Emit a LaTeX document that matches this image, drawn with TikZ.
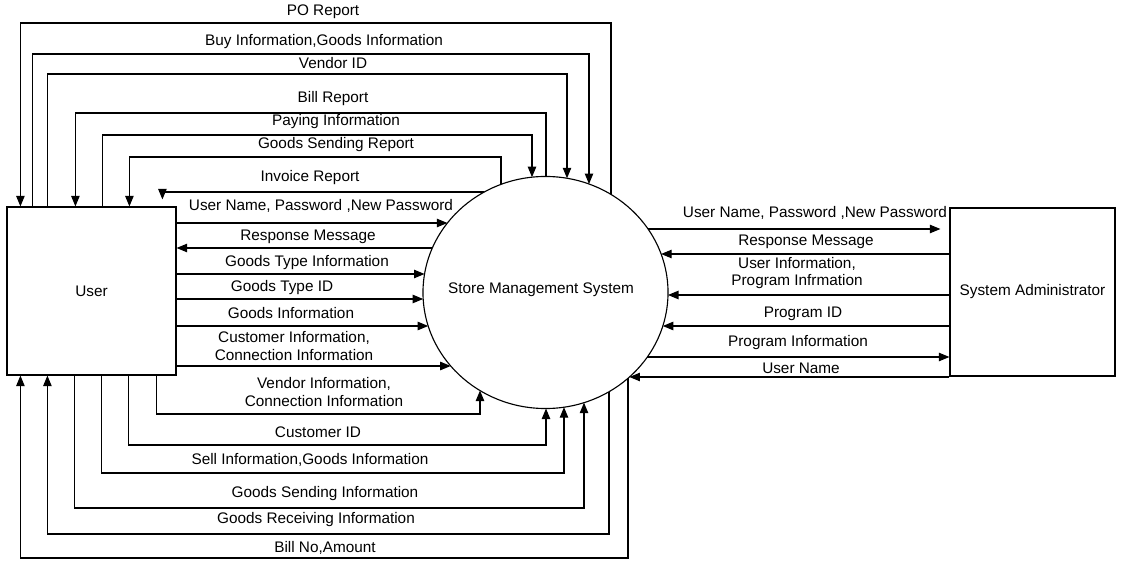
\documentclass[tikz,border=0pt]{standalone}
\usepackage{fontspec}
\setmainfont{Liberation Sans}
\usetikzlibrary{arrows.meta,calc,shapes.geometric}
\begin{document}
\begin{tikzpicture}[x=0.025cm,y=-0.025cm,
  line width=0.8pt,
  arr/.style={-{Triangle[length=7.5pt,width=6pt]}},
  lbl/.style={inner sep=0pt,align=center,font=\fontsize{10.9pt}{12.2pt}\selectfont},
  ent/.style={draw,rectangle,inner sep=0pt,minimum height=4.2cm,font=\fontsize{10.9pt}{13pt}\selectfont},
  declare function={
    exl(\t)=545.5-122.5*sqrt(1-((\t-292.5)/116)^2);
    exr(\t)=545.5+122.5*sqrt(1-((\t-292.5)/116)^2);
    eyt(\t)=292.5-116*sqrt(1-((\t-545.5)/122.5)^2);
    eyb(\t)=292.5+116*sqrt(1-((\t-545.5)/122.5)^2);
  }]
\useasboundingbox (0,0) rectangle (1123,563);

% entities and process
\node[ent,minimum width=4.225cm] (user) at (91.5,291) {User};
\node[ent,minimum width=4.125cm] (admin) at (1032.5,292) {System Administrator};
\node[draw,ellipse,inner sep=0pt,minimum width=6.125cm,minimum height=5.8cm] (sms) at (545.5,292.5) {};
\node[lbl] (smst) at (541,290) {Store Management System};

% attach points on the process
\coordinate (ePO)   at (611,{eyt(611)});
\coordinate (eBuy)  at (589,{eyt(589)});
\coordinate (eVen)  at (567,{eyt(567)});
\coordinate (eBill) at (546,{eyt(546)});
\coordinate (ePay)  at (532,{eyt(532)});
\coordinate (eGSR)  at (501,{eyt(501)});
\coordinate (eInv)  at ({exl(192)},192);

\coordinate (eUN)   at ({exl(223)},223);
\coordinate (eRM)   at ({exl(248)},248);
\coordinate (eGTI)  at ({exl(274)},274);
\coordinate (eGTD)  at ({exl(299)},299);
\coordinate (eGI)   at ({exl(326)},326);
\coordinate (eCI)   at ({exl(366)},366);

\coordinate (bVen)  at (480,{eyb(480)});
\coordinate (bCus)  at (546,{eyb(546)});
\coordinate (bSell) at (564,{eyb(564)});
\coordinate (bGSI)  at (584,{eyb(584)});
\coordinate (bGRI)  at (609,{eyb(609)});
\coordinate (bBill) at (628,{eyb(628)});

\coordinate (rUN)   at ({exr(229)},229);
\coordinate (rRM)   at ({exr(254)},254);
\coordinate (rUI)   at ({exr(295)},295);
\coordinate (rPID)  at ({exr(326)},326);
\coordinate (rPI)   at ({exr(357)},357);
\coordinate (rUNm)  at ({exr(377)},377);

% attach points on the user box
\coordinate (uPO)   at ($(user.north west)+(14,0)$);
\coordinate (uBuy)  at ($(user.north west)+(26,0)$);
\coordinate (uVen)  at ($(user.north west)+(41,0)$);
\coordinate (uBill) at ($(user.north west)+(69,0)$);
\coordinate (uPay)  at ($(user.north west)+(96,0)$);
\coordinate (uGSR)  at ($(user.north west)+(123,0)$);
\coordinate (uInv)  at ($(user.north west)+(156,-7)$);

\coordinate (dVen)  at ($(user.south west)+(150,0)$);
\coordinate (dCus)  at ($(user.south west)+(122,0)$);
\coordinate (dSell) at ($(user.south west)+(95,0)$);
\coordinate (dGSI)  at ($(user.south west)+(68,0)$);
\coordinate (dGRI)  at ($(user.south west)+(41,0)$);
\coordinate (dBill) at ($(user.south west)+(14,0)$);

% levels of the routed lines
\coordinate (lPO)   at (0,23);
\coordinate (lBuy)  at (0,54);
\coordinate (lVen)  at (0,74);
\coordinate (lBill) at (0,113);
\coordinate (lPay)  at (0,135);
\coordinate (lGSR)  at (0,157);
\coordinate (lVenB) at (0,414);
\coordinate (lCus)  at (0,445);
\coordinate (lSell) at (0,473);
\coordinate (lGSI)  at (0,508);
\coordinate (lGRI)  at (0,534);
\coordinate (lBillB) at (0,558);

% top flows
\draw[arr] (ePO) -- (ePO |- lPO) -| (uPO);
\draw[arr] (uBuy) -- (uBuy |- lBuy) -| (eBuy);
\draw[arr] (uVen) -- (uVen |- lVen) -| (eVen);
\draw[arr] (eBill) -- (eBill |- lBill) -| (uBill);
\draw[arr] (uPay) -- (uPay |- lPay) -| (ePay);
\draw[arr] (eGSR) -- (eGSR |- lGSR) -| (uGSR);
\draw[arr] (eInv) -| (uInv);

\node[lbl] at (323,12) {PO Report};
\node[lbl] at (324,42) {Buy Information,Goods Information};
\node[lbl] at (333,63) {Vendor ID};
\node[lbl] at (333,99) {Bill Report};
\node[lbl] at (336,122) {Paying Information};
\node[lbl] at (336,145) {Goods Sending Report};
\node[lbl] at (310,178) {Invoice Report};

% middle-left flows
\draw[arr] (user.east |- eUN) -- (eUN);
\draw[arr] (eRM) -- (user.east |- eRM);
\draw[arr] (user.east |- eGTI) -- (eGTI);
\draw[arr] (user.east |- eGTD) -- (eGTD);
\draw[arr] (user.east |- eGI) -- (eGI);
\draw[arr] (user.east |- eCI) -- (eCI);

\node[lbl] at (321,206) {User Name, Password ,New Password};
\node[lbl] at (308,237) {Response Message};
\node[lbl] at (307,263) {Goods Type Information};
\node[lbl] at (282,288) {Goods Type ID};
\node[lbl] at (291,313) {Goods Information};
\node[lbl] at (294,346) {Customer Information,\\Connection Information};

% bottom flows
\draw[arr] (dVen) -- (dVen |- lVenB) -| (bVen);
\draw[arr] (dCus) -- (dCus |- lCus) -| (bCus);
\draw[arr] (dSell) -- (dSell |- lSell) -| (bSell);
\draw[arr] (dGSI) -- (dGSI |- lGSI) -| (bGSI);
\draw[arr] (bGRI) -- (bGRI |- lGRI) -| (dGRI);
\draw[arr] (bBill) -- (bBill |- lBillB) -| (dBill);

\node[lbl] at (324,392) {Vendor Information,\\Connection Information};
\node[lbl] at (318,432) {Customer ID};
\node[lbl] at (310,460) {Sell Information,Goods Information};
\node[lbl] at (325,494) {Goods Sending Information};
\node[lbl] at (316,520) {Goods Receiving Information};
\node[lbl] at (325,548) {Bill No,Amount};

% right flows
\draw[arr] (rUN) -- ($(admin.west |- rUN)+(-9,0)$);
\draw[arr] (admin.west |- rRM) -- (rRM);
\draw[arr] (admin.west |- rUI) -- (rUI);
\draw[arr] (admin.west |- rPID) -- (rPID);
\draw[arr] (rPI) -- (admin.west |- rPI);
\draw[arr] (admin.west |- rUNm) -- (rUNm);

\node[lbl] at (815,213) {User Name, Password ,New Password};
\node[lbl] at (806,242) {Response Message};
\node[lbl] at (797,273) {User Information,\\Program Infrmation};
\node[lbl] at (803,314) {Program ID};
\node[lbl] at (798,343) {Program Information};
\node[lbl] at (801,368) {User Name};
\end{tikzpicture}
\end{document}
